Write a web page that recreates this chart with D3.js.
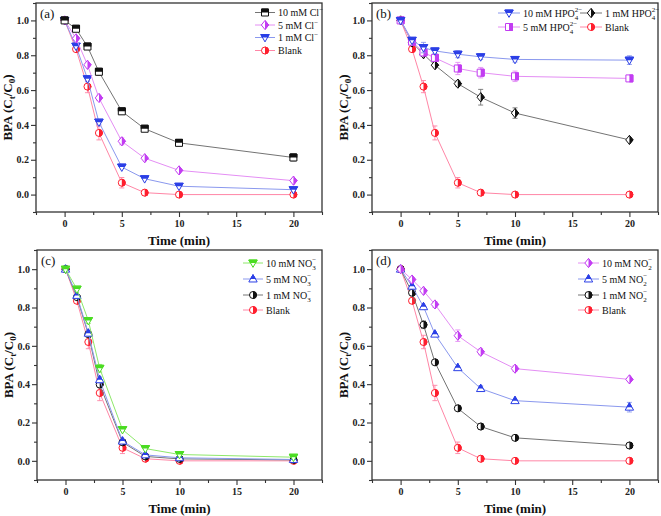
<!DOCTYPE html>
<html><head><meta charset="utf-8">
<script src="https://cdn.jsdelivr.net/npm/d3@7"></script>
<style>
html,body{margin:0;padding:0;background:#fff;}
svg{display:block;}
text{font-family:"Liberation Serif","Times New Roman",serif;}
</style></head>
<body>
<svg id="chart" width="661" height="516"></svg>
<script>
// ---------- DATA ----------
const times = [0, 1, 2, 3, 5, 7, 10, 20];
const xTicks = [0, 5, 10, 15, 20];
const yTicks = [0.0, 0.2, 0.4, 0.6, 0.8, 1.0];
const panelLabels = ["(a)", "(b)", "(c)", "(d)"];

const blank    = [1.0, 0.835, 0.620, 0.354, 0.068, 0.011, 0.000, 0.000];
const blankErr = [0.005, 0.012, 0.035, 0.040, 0.030, 0.010, 0.005, 0.005];

// (a) chloride
const cl10 = [1.0, 0.952, 0.850, 0.705, 0.478, 0.378, 0.297, 0.213];
const cl10Err = [0.005, 0.010, 0.010, 0.020, 0.015, 0.010, 0.010, 0.020];
const cl5 = [1.0, 0.897, 0.745, 0.555, 0.306, 0.209, 0.139, 0.080];
const cl5Err = [0.005, 0.010, 0.010, 0.015, 0.020, 0.010, 0.010, 0.010];
const cl1 = [1.0, 0.852, 0.665, 0.416, 0.158, 0.091, 0.048, 0.028];
const cl1Err = [0.005, 0.010, 0.015, 0.015, 0.010, 0.010, 0.010, 0.010];

// (b) hydrogen phosphate
const hpo10 = [1.0, 0.886, 0.844, 0.825, 0.806, 0.791, 0.776, 0.772];
const hpo10Err = [0.005, 0.010, 0.030, 0.015, 0.020, 0.015, 0.015, 0.025];
const hpo5 = [1.0, 0.878, 0.816, 0.785, 0.724, 0.700, 0.679, 0.667];
const hpo5Err = [0.005, 0.010, 0.015, 0.015, 0.035, 0.030, 0.030, 0.010];
const hpo1 = [1.0, 0.873, 0.806, 0.743, 0.637, 0.559, 0.468, 0.314];
const hpo1Err = [0.005, 0.010, 0.010, 0.010, 0.015, 0.045, 0.030, 0.010];

// (c) nitrate
const no3_10 = [1.0, 0.896, 0.732, 0.483, 0.163, 0.064, 0.033, 0.019];
const no3_10Err = [0.005, 0.010, 0.015, 0.020, 0.010, 0.010, 0.008, 0.008];
const no3_5 = [1.0, 0.863, 0.666, 0.423, 0.103, 0.031, 0.016, 0.007];
const no3_5Err = [0.005, 0.010, 0.015, 0.015, 0.010, 0.008, 0.006, 0.006];
const no3_1 = [1.0, 0.854, 0.661, 0.398, 0.097, 0.023, 0.010, 0.005];
const no3_1Err = [0.005, 0.010, 0.015, 0.015, 0.010, 0.008, 0.006, 0.006];

// (d) nitrite
const no2_10 = [1.0, 0.946, 0.887, 0.816, 0.653, 0.569, 0.481, 0.425];
const no2_10Err = [0.005, 0.010, 0.010, 0.015, 0.030, 0.015, 0.015, 0.010];
const no2_5 = [1.0, 0.911, 0.804, 0.661, 0.486, 0.377, 0.314, 0.280];
const no2_5Err = [0.005, 0.010, 0.010, 0.010, 0.010, 0.015, 0.010, 0.025];
const no2_1 = [1.0, 0.877, 0.710, 0.514, 0.274, 0.179, 0.120, 0.080];
const no2_1Err = [0.005, 0.010, 0.020, 0.010, 0.010, 0.015, 0.010, 0.008];

// ---------- STYLES ----------
const ST = {
  black:   {mk: "#111111", ln: "#747474"},
  magenta: {mk: "#c23cf2", ln: "#e48ef4"},
  blue:    {mk: "#2b3fe6", ln: "#8a98ee"},
  red:     {mk: "#ff1f2e", ln: "#ff86a6"},
  green:   {mk: "#4bdc22", ln: "#8ee86a"}
};

const panels = [
  {box: [36, 3, 322, 212], series: [
    {v: cl10, e: cl10Err, shape: "square", half: "top", st: "black", label: [["10 mM Cl", "n"], ["−", "sup"]]},
    {v: cl5, e: cl5Err, shape: "diamond", half: "right", st: "magenta", label: [["5 mM Cl", "n"], ["−", "sup"]]},
    {v: cl1, e: cl1Err, shape: "triDown", half: "top", st: "blue", label: [["1 mM Cl", "n"], ["−", "sup"]]},
    {v: blank, e: blankErr, shape: "circle", half: "right", st: "red", label: [["Blank", "n"]]}
  ], legend: [[255, 12.5], [255, 25], [255, 37.5], [255, 50.5]], legLen: 20},
  {box: [372, 3, 658, 212], series: [
    {v: hpo10, e: hpo10Err, shape: "triDown", half: "top", st: "blue", label: [["10 mM HPO", "n"], ["4", "2−", "subsup"]]},
    {v: hpo5, e: hpo5Err, shape: "square", half: "right", st: "magenta", label: [["5 mM HPO", "n"], ["4", "2−", "subsup"]]},
    {v: hpo1, e: hpo1Err, shape: "diamond", half: "right", st: "black", label: [["1 mM HPO", "n"], ["4", "2−", "subsup"]]},
    {v: blank, e: blankErr, shape: "circle", half: "right", st: "red", label: [["Blank", "n"]]}
  ], legend: [[498, 13], [498, 27], [580, 13], [580, 27]], legLen: 22},
  {box: [37, 250, 322, 480], series: [
    {v: no3_10, e: no3_10Err, shape: "triDown", half: "top", st: "green", label: [["10 mM NO", "n"], ["3", "−", "subsup"]]},
    {v: no3_5, e: no3_5Err, shape: "triUp", half: "top", st: "blue", label: [["5 mM NO", "n"], ["3", "−", "subsup"]]},
    {v: no3_1, e: no3_1Err, shape: "circle", half: "right", st: "black", label: [["1 mM NO", "n"], ["3", "−", "subsup"]]},
    {v: blank, e: blankErr, shape: "circle", half: "right", st: "red", label: [["Blank", "n"]]}
  ], legend: [[243, 263], [243, 279], [243, 295], [243, 310]], legLen: 20},
  {box: [372, 250, 658, 480], series: [
    {v: no2_10, e: no2_10Err, shape: "diamond", half: "right", st: "magenta", label: [["10 mM NO", "n"], ["2", "−", "subsup"]]},
    {v: no2_5, e: no2_5Err, shape: "triUp", half: "top", st: "blue", label: [["5 mM NO", "n"], ["2", "−", "subsup"]]},
    {v: no2_1, e: no2_1Err, shape: "circle", half: "right", st: "black", label: [["1 mM NO", "n"], ["2", "−", "subsup"]]},
    {v: blank, e: blankErr, shape: "circle", half: "right", st: "red", label: [["Blank", "n"]]}
  ], legend: [[578, 263], [578, 279], [578, 295], [578, 310]], legLen: 21}
];

// ---------- DRAW ----------
const svg = d3.select("#chart");
const defs = svg.append("defs");
defs.append("clipPath").attr("id", "half-top").attr("clipPathUnits", "userSpaceOnUse")
  .append("rect").attr("x", -10).attr("y", -10).attr("width", 20).attr("height", 10);
defs.append("clipPath").attr("id", "half-right").attr("clipPathUnits", "userSpaceOnUse")
  .append("rect").attr("x", 0).attr("y", -10).attr("width", 10).attr("height", 20);

const R = 3.5;
function shapePath(s) {
  const r = R;
  switch (s) {
    case "square": return `M${-r},${-r}H${r}V${r}H${-r}Z`;
    case "diamond": return `M0,${-r * 1.3}L${r * 1.05},0L0,${r * 1.3}L${-r * 1.05},0Z`;
    case "triDown": return `M${-r * 1.2},${-r * 0.85}L${r * 1.2},${-r * 0.85}L0,${r * 1.25}Z`;
    case "triUp": return `M0,${-r * 1.25}L${r * 1.2},${r * 0.85}L${-r * 1.2},${r * 0.85}Z`;
    default: return `M${r},0A${r},${r} 0 1 1 ${-r},0A${r},${r} 0 1 1 ${r},0Z`;
  }
}
function drawMarker(g, x, y, s) {
  const c = ST[s.st].mk;
  const m = g.append("g").attr("transform", `translate(${x},${y})`);
  m.append("path").attr("d", shapePath(s.shape)).attr("fill", "#fff").attr("stroke", c).attr("stroke-width", 1);
  m.append("path").attr("d", shapePath(s.shape)).attr("fill", c).attr("stroke", c).attr("stroke-width", 1)
    .attr("clip-path", `url(#half-${s.half})`);
}
function addLabel(t, parts, fs) {
  parts.forEach(p => {
    const kind = p[p.length - 1];
    if (kind === "n") {
      t.append("tspan").text(p[0]);
    } else if (kind === "sup") {
      t.append("tspan").attr("dy", -4).attr("font-size", 7).text(p[0]);
      t.append("tspan").attr("dy", 4).text("");
    } else {
      t.append("tspan").attr("dy", 3).attr("font-size", 7).text(p[0]);
      t.append("tspan").attr("dy", -7.5).attr("dx", -3.5).attr("font-size", 7).text(p[1]);
      t.append("tspan").attr("dy", 4.5).text("");
    }
  });
}

panels.forEach((P, pi) => {
  const [x0, y0, x1, y1] = P.box;
  const x = d3.scaleLinear().domain([-2.5, 22.5]).range([x0, x1]);
  const y = d3.scaleLinear().domain([-0.1, 1.1]).range([y1, y0]);
  const g = svg.append("g");

  g.append("rect").attr("x", x0).attr("y", y0).attr("width", x1 - x0).attr("height", y1 - y0)
    .attr("fill", "none").attr("stroke", "#333").attr("stroke-width", 1.3);

  const xAx = g.append("g").attr("transform", `translate(0,${y1})`)
    .call(d3.axisBottom(x).tickValues(xTicks).tickSize(5).tickPadding(3).tickFormat(d3.format("d")));
  const xMin = g.append("g").attr("transform", `translate(0,${y1})`)
    .call(d3.axisBottom(x).tickValues([-2.5, 2.5, 7.5, 12.5, 17.5, 22.5]).tickSize(3).tickFormat(""));
  const yAx = g.append("g").attr("transform", `translate(${x0},0)`)
    .call(d3.axisLeft(y).tickValues(yTicks).tickSize(5).tickPadding(2).tickFormat(d3.format(".1f")));
  const yMin = g.append("g").attr("transform", `translate(${x0},0)`)
    .call(d3.axisLeft(y).tickValues([-0.1, 0.1, 0.3, 0.5, 0.7, 0.9, 1.1]).tickSize(3).tickFormat(""));
  [xAx, xMin, yAx, yMin].forEach(a => {
    a.select(".domain").remove();
    a.selectAll("line").attr("stroke", "#333").attr("stroke-width", 1.1);
    a.selectAll("text").attr("font-family", "Liberation Serif").attr("font-size", 10)
      .attr("font-weight", "bold").attr("fill", "#222");
  });

  g.append("text").attr("x", (x0 + x1) / 2).attr("y", y1 + 33)
    .attr("text-anchor", "middle").attr("font-size", 13).attr("font-weight", "bold").attr("fill", "#111")
    .text("Time (min)");
  const cy = (y0 + y1) / 2;
  const yt = g.append("text").attr("transform", `translate(${x0 - 24},${cy}) rotate(-90)`)
    .attr("text-anchor", "middle").attr("font-size", 13).attr("font-weight", "bold").attr("fill", "#111");
  yt.append("tspan").text("BPA (C");
  yt.append("tspan").attr("dy", 3).attr("font-size", 9).text("t");
  yt.append("tspan").attr("dy", -3).text("/C");
  yt.append("tspan").attr("dy", 3).attr("font-size", 9).text("0");
  yt.append("tspan").attr("dy", -3).text(")");

  g.append("text").attr("x", x0 + 4).attr("y", y0 + 15).attr("font-size", 13).attr("fill", "#111")
    .text(panelLabels[pi]);

  const line = d3.line().x((d, i) => x(times[i])).y(d => y(d));
  const order = P.series.slice().reverse();
  order.forEach(s => {
    g.append("path").datum(s.v).attr("d", line).attr("fill", "none")
      .attr("stroke", ST[s.st].ln).attr("stroke-width", 1);
    s.v.forEach((v, i) => {
      const e = s.e[i];
      if (e < 0.012) return;
      const cx = x(times[i]);
      const eg = g.append("g").attr("stroke", ST[s.st].ln).attr("stroke-width", 0.9);
      eg.append("line").attr("x1", cx).attr("x2", cx).attr("y1", y(v - e)).attr("y2", y(v + e));
      eg.append("line").attr("x1", cx - 2.5).attr("x2", cx + 2.5).attr("y1", y(v - e)).attr("y2", y(v - e));
      eg.append("line").attr("x1", cx - 2.5).attr("x2", cx + 2.5).attr("y1", y(v + e)).attr("y2", y(v + e));
    });
    s.v.forEach((v, i) => drawMarker(g, x(times[i]), y(v), s));
  });

  P.series.forEach((s, k) => {
    const [lx, ly] = P.legend[k];
    g.append("line").attr("x1", lx).attr("x2", lx + P.legLen).attr("y1", ly).attr("y2", ly)
      .attr("stroke", ST[s.st].ln).attr("stroke-width", 1);
    drawMarker(g, lx + P.legLen / 2, ly, s);
    const t = g.append("text").attr("x", lx + P.legLen + 3).attr("y", ly + 3.5)
      .attr("font-size", 10).attr("fill", "#111");
    addLabel(t, s.label, 10);
  });
});
</script>
</body></html>
